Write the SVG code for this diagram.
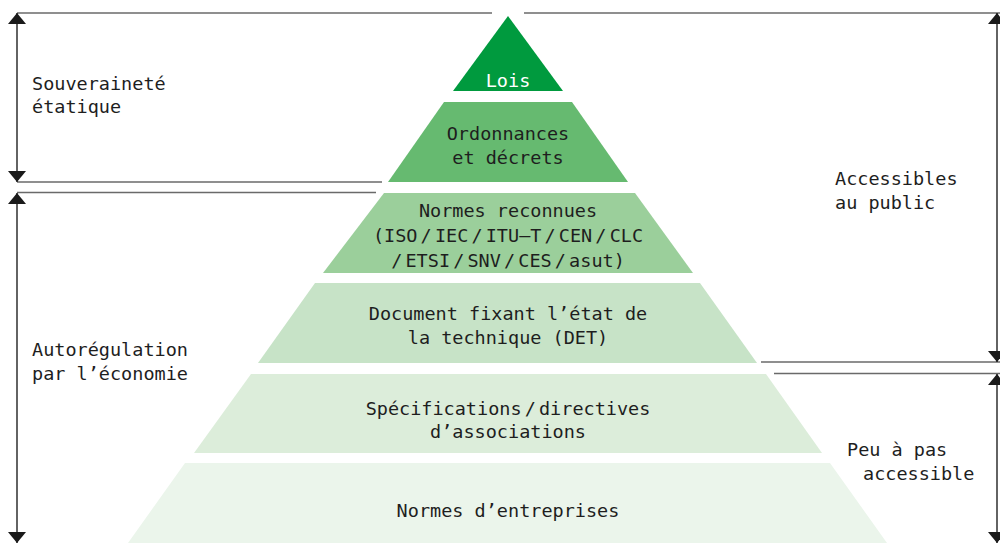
<svg xmlns="http://www.w3.org/2000/svg" width="1000" height="543" viewBox="0 0 1000 543">
  <defs>
    <marker id="head" viewBox="0 -9 11 18" refX="11" refY="0" markerWidth="11" markerHeight="18" markerUnits="userSpaceOnUse" orient="auto-start-reverse">
      <path d="M0,-9 L11,0 L0,9 z" fill="#1a1a1a"/>
    </marker>
    <style>
      text { font-family: "DejaVu Sans Mono", "Liberation Mono", monospace; font-size: 18.5px; fill: #1e1e1e; }
      .c { text-anchor: middle; }
      .thin { word-spacing: -8px; }
      .rule { stroke: #6a6a6a; stroke-width: 1.6; fill: none; }
      .span { stroke: #222; stroke-width: 1.4; fill: none; marker-start: url(#head); marker-end: url(#head); }
    </style>
  </defs>
  <rect width="1000" height="543" fill="#fff"/>

  <!-- pyramid layers -->
  <g id="lois">
    <polygon points="508,16 563,91 453,91" fill="#009a3e"/>
    <text class="c" x="508" y="87" style="fill:#fff">Lois</text>
  </g>
  <g id="ordonnances">
    <polygon points="444,102 572,102 628,182 388,182" fill="#66ba70"/>
    <text class="c" x="508" y="140">Ordonnances</text>
    <text class="c" x="508" y="164">et décrets</text>
  </g>
  <g id="normes-reconnues">
    <polygon points="384,193 635,193 693,273 323,273" fill="#9bcf9b"/>
    <text class="c" x="508" y="217">Normes reconnues</text>
    <text class="c thin" x="508" y="242">(ISO / IEC / ITU–T / CEN / CLC</text>
    <text class="c thin" x="508" y="267">/ ETSI / SNV / CES / asut)</text>
  </g>
  <g id="det">
    <polygon points="315,283 700,283 757,363 258,363" fill="#c7e3c7"/>
    <text class="c" x="508" y="320">Document fixant l’état de</text>
    <text class="c" x="508" y="344">la technique (DET)</text>
  </g>
  <g id="specifications">
    <polygon points="251,374 766,374 822,453 194,453" fill="#dcedda"/>
    <text class="c thin" x="508" y="415">Spécifications / directives</text>
    <text class="c" x="508" y="438">d’associations</text>
  </g>
  <g id="normes-entreprises">
    <polygon points="185,463 830,463 887,543 128,543" fill="#ebf5eb"/>
    <text class="c" x="508" y="517">Normes d’entreprises</text>
  </g>

  <!-- side labels -->
  <g id="souverainete">
    <text x="32" y="90">Souveraineté</text>
    <text x="32" y="113">étatique</text>
  </g>
  <g id="autoregulation">
    <text x="32" y="356">Autorégulation</text>
    <text x="32" y="380">par l’économie</text>
  </g>
  <g id="accessibles">
    <text x="835" y="185">Accessibles</text>
    <text x="835" y="209">au public</text>
  </g>
  <g id="peu-accessible">
    <text x="847" y="456">Peu à pas</text>
    <text x="863" y="480">accessible</text>
  </g>

  <!-- rules and span arrows -->
  <g id="connectors">
    <line class="rule" x1="17" y1="13" x2="492" y2="13"/>
    <line class="rule" x1="524" y1="13" x2="1000" y2="13"/>
    <line class="rule" x1="17" y1="182" x2="382" y2="182"/>
    <line class="rule" x1="17" y1="192.5" x2="376" y2="192.5"/>
    <line class="rule" x1="761" y1="362" x2="1000" y2="362"/>
    <line class="rule" x1="774" y1="373.5" x2="1000" y2="373.5"/>
    <line class="span" x1="17" y1="13" x2="17" y2="182"/>
    <line class="span" x1="17" y1="193" x2="17" y2="543"/>
    <line class="span" x1="997" y1="13" x2="997" y2="362"/>
    <line class="span" x1="997" y1="374" x2="997" y2="543"/>
  </g>
</svg>
